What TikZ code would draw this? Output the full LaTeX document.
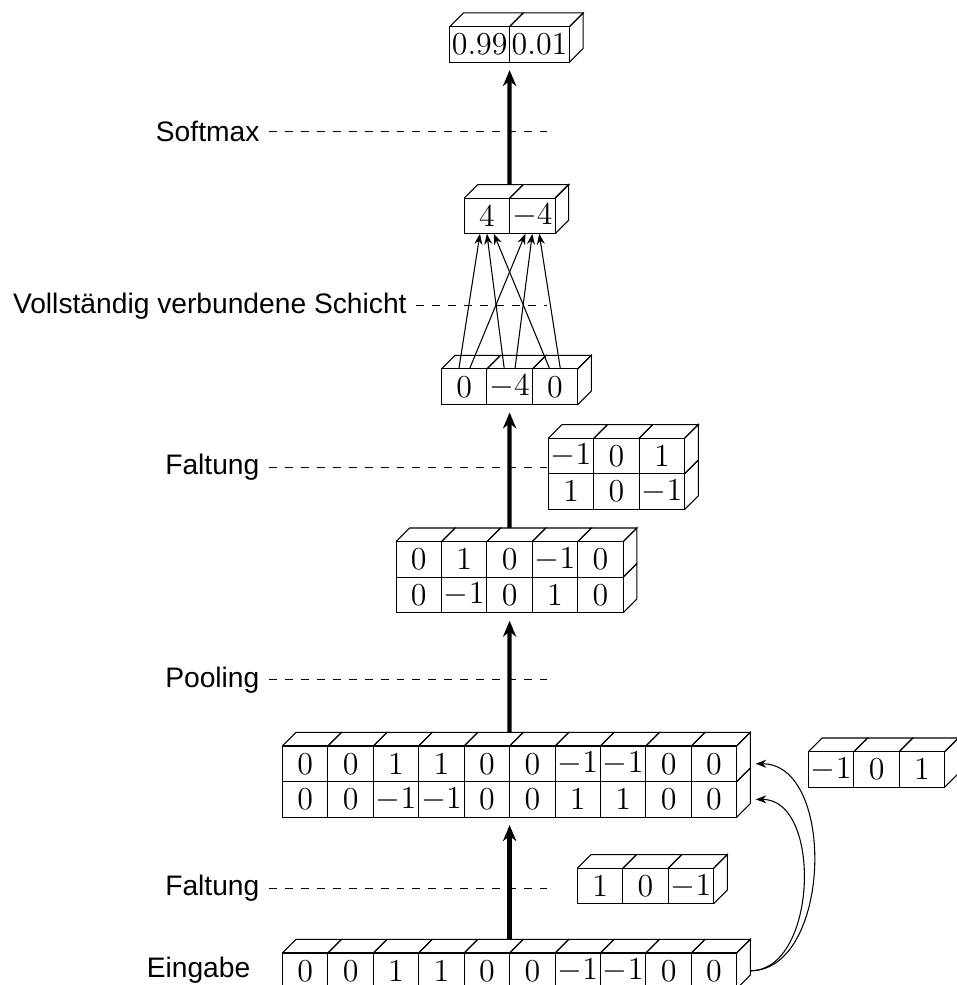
\documentclass[tikz,border=0pt]{standalone}
\usepackage{fontspec}
\newfontfamily\labelfont{Liberation Sans}
\usetikzlibrary{positioning, arrows.meta, calc}
\tikzset{
  cell/.style={
    draw=black,
    minimum width=0.6cm,
    minimum height=0.47cm,
    inner xsep=0.8pt,
    inner ysep=0pt,
    outer sep=0pt,
    font=\fontsize{12}{14}\selectfont
  },
  layername/.style={
    font=\labelfont\fontsize{10.6}{12.7}\selectfont,
    anchor=east
  },
  guide/.style={
    draw=black,
    dashed
  },
  bigarrow/.style={
    draw=black,
    ultra thick,
    -{Stealth[length=6pt, width=5pt]},
    shorten >=3pt
  },
  arrow/.style={
    draw=black,
    -{Stealth[length=4pt, width=3pt]}
  }
}
\newcommand{\dep}{0.18cm}
\newcommand{\topface}[1]{\draw (#1.north west) -- ++(\dep,\dep) -- ($(#1.north east)+(\dep,\dep)$) -- (#1.north east);}
\newcommand{\sideface}[1]{\draw (#1.north east) -- ++(\dep,\dep) -- ($(#1.south east)+(\dep,\dep)$) -- (#1.south east);}

\begin{document}
\begin{tikzpicture}
\useasboundingbox (0,0) rectangle (12.63,13.01);

% nodes

%% input
\node[cell, anchor=north west] (in1) at (3.731,0.423) {$0$};
\foreach \v [count=\i from 2, evaluate=\i as \j using int(\i-1)] in {0,1,1,0,0,-1,-1,0,0}
  \node[cell, right=0pt of in\j] (in\i) {$\v$};

%% first convolution
\node[cell, anchor=north west] (ct1) at (3.731,3.157) {$0$};
\foreach \v [count=\i from 2, evaluate=\i as \j using int(\i-1)] in {0,1,1,0,0,-1,-1,0,0}
  \node[cell, right=0pt of ct\j] (ct\i) {$\v$};
\node[cell, below=0pt of ct1] (cb1) {$0$};
\foreach \v [count=\i from 2, evaluate=\i as \j using int(\i-1)] in {0,-1,-1,0,0,1,1,0,0}
  \node[cell, right=0pt of cb\j] (cb\i) {$\v$};

%% filters of the first convolution
\node[cell, anchor=north west] (fa1) at (7.626,1.542) {$1$};
\node[cell, right=0pt of fa1] (fa2) {$0$};
\node[cell, right=0pt of fa2] (fa3) {$-1$};

\node[cell, anchor=north west] (fb1) at (10.678,3.082) {$-1$};
\node[cell, right=0pt of fb1] (fb2) {$0$};
\node[cell, right=0pt of fb2] (fb3) {$1$};

%% pooling
\node[cell, anchor=north west] (pt1) at (5.231,5.856) {$0$};
\foreach \v [count=\i from 2, evaluate=\i as \j using int(\i-1)] in {1,0,-1,0}
  \node[cell, right=0pt of pt\j] (pt\i) {$\v$};
\node[cell, below=0pt of pt1] (pb1) {$0$};
\foreach \v [count=\i from 2, evaluate=\i as \j using int(\i-1)] in {-1,0,1,0}
  \node[cell, right=0pt of pb\j] (pb\i) {$\v$};

%% filter of the second convolution
\node[cell, anchor=north west] (kt1) at (7.243,7.222) {$-1$};
\node[cell, right=0pt of kt1] (kt2) {$0$};
\node[cell, right=0pt of kt2] (kt3) {$1$};
\node[cell, below=0pt of kt1] (kb1) {$1$};
\node[cell, right=0pt of kb1] (kb2) {$0$};
\node[cell, right=0pt of kb2] (kb3) {$-1$};

%% second convolution
\node[cell, anchor=north west] (cv1) at (5.831,8.137) {$0$};
\node[cell, right=0pt of cv1] (cv2) {$-4$};
\node[cell, right=0pt of cv2] (cv3) {$0$};

%% fully connected
\node[cell, anchor=north west] (fc1) at (6.131,10.392) {$4$};
\node[cell, right=0pt of fc1] (fc2) {$-4$};

%% softmax
\node[cell, anchor=north east] (sm1) at (6.731,12.659) {$0.99$};
\node[cell, right=0pt of sm1] (sm2) {$0.01$};

% depth faces
\foreach \i in {1,...,10} {\topface{in\i} \topface{ct\i}}
\sideface{in10} \sideface{ct10} \sideface{cb10}
\foreach \i in {1,2,3} {\topface{fa\i} \topface{fb\i} \topface{kt\i} \topface{cv\i}}
\sideface{fa3} \sideface{fb3} \sideface{kt3} \sideface{kb3} \sideface{cv3}
\foreach \i in {1,...,5} {\topface{pt\i}}
\sideface{pt5} \sideface{pb5}
\topface{fc1} \topface{fc2} \sideface{fc2}
\topface{sm1} \topface{sm2} \sideface{sm2}

% layer names
\coordinate (dashend) at (7.22,0);
\node[layername] (lsoft) at (3.55,11.27) {Softmax};
\node[layername] (lfull) at (5.495,8.97) {Vollständig verbundene Schicht};
\node[layername] (lconvb) at (3.55,6.84) {Faltung};
\node[layername] (lpool) at (3.55,4.03) {Pooling};
\node[layername] (lconva) at (3.55,1.28) {Faltung};
\node[layername] (lin) at (3.43,0.198) {Eingabe};
\foreach \l in {lsoft,lfull,lconvb,lpool,lconva}
  \draw[guide] (\l.east) -- (\l.east -| dashend);

% edges
\draw[bigarrow] ([yshift=\dep]in5.north east) -- (cb5.south east);
\draw[bigarrow] ([yshift=\dep]ct5.north east) -- (pb3.south);
\draw[bigarrow] ([yshift=\dep]pt3.north) -- (cv2.south);
\draw[bigarrow] ([yshift=\dep]fc1.north east) -- (sm1.south east);

\foreach \i in {1,2,3}
  \foreach \j in {1,2}
    \draw[arrow] ([xshift={(\j-1.5)*4pt}]cv\i.north) -- ([xshift={(\i-2)*2.6pt}]fc\j.south);

\draw[arrow] ([xshift=\dep]in10.east) to[out=0, in=0] ([xshift=0.25cm]ct10.east);
\draw[arrow] ([xshift=\dep]in10.east) to[out=0, in=0] ([xshift=0.25cm]cb10.east);

\end{tikzpicture}
\end{document}
